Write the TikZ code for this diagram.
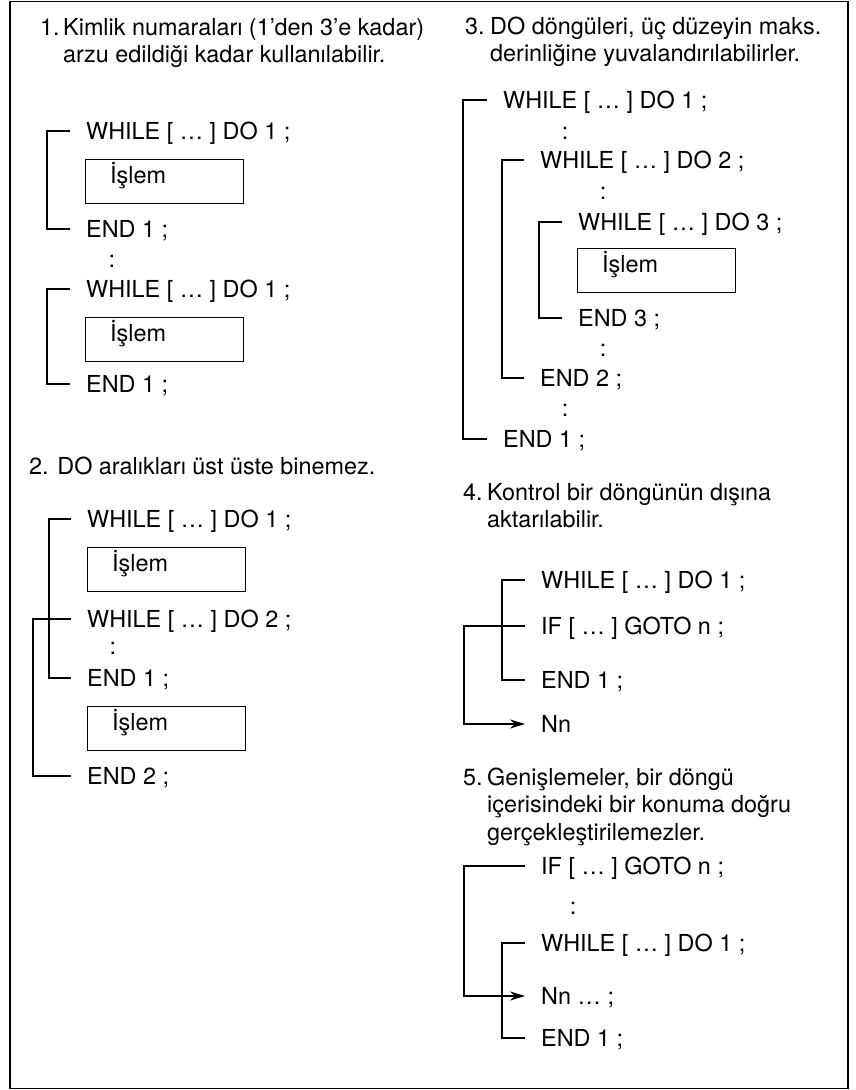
\documentclass[tikz,border=0pt]{standalone}
\usepackage{fontspec}
\setmainfont{TeX Gyre Heros}
\usetikzlibrary{arrows.meta}
\tikzset{
  code/.style={
    anchor=west, inner sep=0pt,
    text height=16.8pt, text depth=0pt
  },
  dots/.style={
    code, anchor=center
  },
  % multi-line heads sit on the baseline of their last line
  head/.style={
    anchor=base west, inner sep=0pt, align=left
  },
  opbox/.style={
    draw, anchor=north west, align=left,
    minimum width=158pt, minimum height=44pt,
    text width=108pt, inner xsep=25pt, inner ysep=0pt,
    text height=16.8pt, text depth=13pt
  },
  loopline/.style={
    line width=1.1pt
  },
  jumparr/.style={
    line width=1.1pt, -{Stealth[length=15pt, width=9pt, inset=5pt]}
  },
  frame/.style={
    line width=1.4pt
  }
}

\begin{document}
\begin{tikzpicture}[x=1pt, y=-1pt, font=\fontsize{23.4}{27.5}\selectfont]

  \useasboundingbox (0,0) rectangle (856,1090);
  \draw[frame] (10,1.5) rectangle (848,1088.5);

  % ── 1. same loop number used twice ─────────────────────────
  \node[head] (n1) at (40,35) {1.};
  \node[head] (h1) at (63,62.5) {Kimlik numaraları (1’den 3’e kadar)\\arzu edildiği kadar kullanılabilir.};

  \node[code]  (w11) at (86,131) {WHILE [ … ] DO 1 ;};
  \node[opbox] (p11) at (85,159) {İşlem};
  \node[code]  (e11) at (86,229) {END 1 ;};
  \node[dots]  (d11) at (112,259) {:};
  \node[code]  (w12) at (86,289) {WHILE [ … ] DO 1 ;};
  \node[opbox] (p12) at (85,317) {İşlem};
  \node[code]  (e12) at (86,384) {END 1 ;};

  \draw[loopline] ([xshift=-16pt]w11.west) -- ++(-23,0) |- ([xshift=-16pt]e11.west);
  \draw[loopline] ([xshift=-16pt]w12.west) -- ++(-23,0) |- ([xshift=-16pt]e12.west);

  % ── 2. overlapping ranges ──────────────────────────────────
  \node[head] (h2) at (29,474) {2. DO aralıkları üst üste binemez.};

  \node[code]  (w21) at (87,519) {WHILE [ … ] DO 1 ;};
  \node[opbox] (p21) at (87,547) {İşlem};
  \node[code]  (w22) at (87,619) {WHILE [ … ] DO 2 ;};
  \node[dots]  (d21) at (113,646) {:};
  \node[code]  (e21) at (87,678) {END 1 ;};
  \node[opbox] (p22) at (87,706) {İşlem};
  \node[code]  (e22) at (87,776) {END 2 ;};

  \draw[loopline] ([xshift=-16pt]w21.west) -- ++(-22,0) |- ([xshift=-16pt]e21.west);
  \draw[loopline] ([xshift=-16pt]w22.west) -- ++(-38,0) |- ([xshift=-16pt]e22.west);

  % ── 3. nesting, three levels ───────────────────────────────
  \node[head] (n3) at (465,34) {3.};
  \node[head] (h3) at (490,61.5) {DO döngüleri, üç düzeyin maks.\\derinliğine yuvalandırılabilirler.};

  \node[code]  (w31) at (503,100) {WHILE [ … ] DO 1 ;};
  \node[dots]  (d31) at (565,131) {:};
  \node[code]  (w32) at (540,160) {WHILE [ … ] DO 2 ;};
  \node[dots]  (d32) at (603,191) {:};
  \node[code]  (w33) at (578,222) {WHILE [ … ] DO 3 ;};
  \node[opbox] (p31) at (577,248) {İşlem};
  \node[code]  (e33) at (578,318) {END 3 ;};
  \node[dots]  (d33) at (603,348) {:};
  \node[code]  (e32) at (540,378) {END 2 ;};
  \node[dots]  (d34) at (565,408) {:};
  \node[code]  (e31) at (503,439) {END 1 ;};

  \draw[loopline] ([xshift=-16pt]w31.west) -- ++(-24,0) |- ([xshift=-16pt]e31.west);
  \draw[loopline] ([xshift=-16pt]w32.west) -- ++(-22,0) |- ([xshift=-16pt]e32.west);
  \draw[loopline] ([xshift=-16pt]w33.west) -- ++(-23,0) |- ([xshift=-16pt]e33.west);

  % ── 4. jump out of a loop ──────────────────────────────────
  \node[head] (n4) at (463,500) {4.};
  \node[head] (h4) at (487,527.5) {Kontrol bir döngünün dışına\\aktarılabilir.};

  \node[code] (w41) at (541,580) {WHILE [ … ] DO 1 ;};
  \node[code] (i41) at (541,626) {IF [ … ] GOTO n ;};
  \node[code] (e41) at (541,680) {END 1 ;};
  \node[code] (n41) at (541,724) {Nn};

  \draw[loopline] ([xshift=-16pt]w41.west) -- ++(-23,0) |- ([xshift=-16pt]e41.west);
  \draw[jumparr]  ([xshift=-16pt]i41.west) -- ++(-61,0) |- ([xshift=-16pt]n41.west);

  % ── 5. jump into a loop ────────────────────────────────────
  \node[head] (n5) at (463,785) {5.};
  \node[head] (h5) at (487,840) {Genişlemeler, bir döngü\\içerisindeki bir konuma doğru\\gerçekleştirilemezler.};

  \node[code] (i51) at (541,866) {IF [ … ] GOTO n ;};
  \node[dots] (d51) at (573,906) {:};
  \node[code] (w51) at (541,943) {WHILE [ … ] DO 1 ;};
  \node[code] (n51) at (541,996) {Nn … ;};
  \node[code] (e51) at (541,1038) {END 1 ;};

  \draw[loopline] ([xshift=-16pt]w51.west) -- ++(-23,0) |- ([xshift=-16pt]e51.west);
  \draw[jumparr]  ([xshift=-16pt]i51.west) -- ++(-61,0) |- ([xshift=-16pt]n51.west);

\end{tikzpicture}
\end{document}
